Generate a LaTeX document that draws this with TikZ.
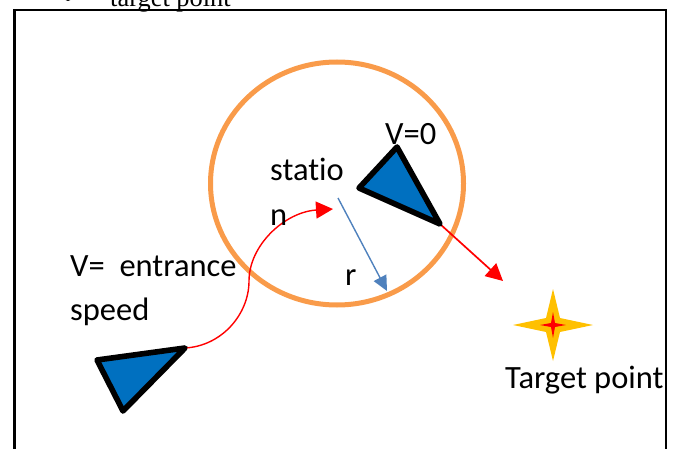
\documentclass[tikz,border=0pt]{standalone}
\usepackage{fontspec}
\setmainfont{Carlito}[Ligatures=NoCommon]
\newfontfamily\serifcap{Liberation Serif}
\usetikzlibrary{arrows.meta}
\definecolor{ringor}{HTML}{F99B4A}
\definecolor{shipblue}{HTML}{0070C0}
\definecolor{radblue}{HTML}{4F81BD}
\definecolor{staryel}{HTML}{FFC000}
\tikzset{
  lbl/.style={anchor=base west,inner sep=0pt,font=\fontsize{32.5}{32.5}\selectfont,text=black},
  ship/.style={draw=black,fill=shipblue,line width=5.6pt,line join=round},
  redarrow/.style={draw=red,-{Triangle[length=17pt,width=17pt,fill=red]}},
}
\begin{document}
\begin{tikzpicture}[x=1pt,y=-1pt]
\useasboundingbox (0,0) rectangle (679,449);
\clip (0,0) rectangle (679,449);
\node[anchor=base west,inner sep=0pt,font=\serifcap\fontsize{26.4}{26.4}\selectfont] (cap) at (110,7) {target point};
\fill (68,-3.5) circle (4.5);
\draw[line width=2.6pt] (14.5,470) -- (14.5,10) -- (666,10) -- (666,470);
\draw[ringor,line width=5pt] (337,183.5) ellipse [x radius=126.5,y radius=121.5];
\coordinate (a1) at (397,147);
\coordinate (a2) at (359,188);
\coordinate (a3) at (440,224);
\coordinate (b1) at (97,360);
\coordinate (b2) at (123,411);
\coordinate (b3) at (185,348);
\coordinate (redend) at (333,209);
\coordinate (aim) at (503,281);
\coordinate (r0) at (338,198);
\coordinate (r1) at (387,291);
\draw[redarrow,line width=1.4pt] (b3) .. controls (222,346) and (249,314) .. (249,281) .. controls (249,245) and (285,212) .. (redend);
\draw[redarrow,line width=1.7pt] (a3) -- (aim);
\draw[draw=radblue,line width=1.4pt,-{Triangle[length=15pt,width=14pt,fill=radblue]}] (r0) -- (r1);
\draw[ship] (a1) -- (a2) -- (a3) -- cycle;
\draw[ship] (b1) -- (b2) -- (b3) -- cycle;
\fill[staryel] (513,325) -- (546,318) -- (553,289) -- (560,318) -- (593,325) -- (560,332) -- (553,361) -- (546,332) -- cycle;
\fill[red] (540,325) -- (551,323) -- (553,312) -- (555,323) -- (566,325) -- (555,327) -- (553,338) -- (551,327) -- cycle;
\node[lbl] (v0) at (385,145) {V=0};
\node[lbl] (st1) at (270,180) {statio};
\node[lbl] (st2) at (270,225) {n};
\node[lbl] (rr) at (345,285) {r};
\node[lbl] (ve) at (70,276) {V=\ \ entrance};
\node[lbl] (sp) at (70,320) {speed};
\node[lbl] (tp) at (505,388) {Target point};
\end{tikzpicture}
\end{document}
